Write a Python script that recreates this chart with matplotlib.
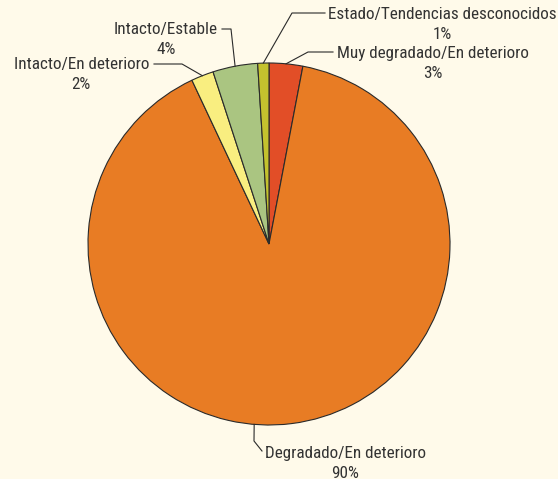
import numpy as np
import matplotlib
matplotlib.use("Agg")
import matplotlib.pyplot as plt
from matplotlib import font_manager as fm

W, H = 558, 479

categorias = [
    "Muy degradado/En deterioro",
    "Degradado/En deterioro",
    "Intacto/En deterioro",
    "Intacto/Estable",
    "Estado/Tendencias desconocidos",
]
porcentajes = [3, 90, 2, 4, 1]
colores = ["#E24E27", "#E87C24", "#F9EE80", "#AAC581", "#C4C22E"]

# label layout in pixels, origin top-left:
# (anchor angle override or None, elbow, line end, text pos, ha)
layout = [
    (None, (308, 52), (333, 52), (337, 52), "left"),
    (265.3, (254, 441), (262, 451), (265, 452), "left"),
    (None, (182, 64), (154, 64), (149, 63), "right"),
    (None, (231, 29), (222, 29), (218, 28), "right"),
    (None, (292, 13), (325, 13), (328, 13), "left"),
]

centro = (269, 244)
radio = 181
texto_col = "#333333"
fondo = "#FFFAEA"

# pick a narrow font if there is one
fuentes = fm.fontManager.ttflist
nombres = {f.name for f in fuentes}
if "Liberation Sans Narrow" in nombres:
    fam, stretch = "Liberation Sans Narrow", "normal"
elif "Roboto Condensed" in nombres:
    fam, stretch = "Roboto Condensed", "normal"
elif any(f.name == "DejaVu Sans" and "Condensed" in f.fname for f in fuentes):
    fam, stretch = "DejaVu Sans", "condensed"
else:
    fam, stretch = "Liberation Sans", "normal"


def px(x, y):
    return x, H - y


fig = plt.figure(figsize=(W / 100, H / 100), dpi=100, facecolor=fondo)
ax = fig.add_axes([0, 0, 1, 1])
ax.set_facecolor(fondo)
ax.set_xlim(0, W)
ax.set_ylim(0, H)
ax.set_aspect("equal")
ax.axis("off")

rend = fig.canvas.get_renderer()
prueba = ax.text(0, 0, categorias[-1], fontsize=10, family=fam, stretch=stretch)
ancho = prueba.get_window_extent(rend).width
prueba.remove()
fs = min(13.5, 10 * 228 / ancho)

wedges, _ = ax.pie(
    porcentajes,
    colors=colores,
    startangle=90,
    counterclock=False,
    center=px(*centro),
    radius=radio,
    frame=True,
    wedgeprops=dict(edgecolor="#2a2a2a", linewidth=0.8),
)

for w, nombre, p, (ang, elbow, end, tpos, ha) in zip(wedges, categorias, porcentajes, layout):
    if ang is None:
        ang = (w.theta1 + w.theta2) / 2
    a = np.deg2rad(ang)
    cx, cy = px(*centro)
    x0, y0 = cx + radio * np.cos(a), cy + radio * np.sin(a)
    ex, ey = px(*elbow)
    fx, fy = px(*end)
    ax.plot([x0, ex, fx], [y0, ey, fy], color="#2a2a2a", lw=0.8)
    tx, ty = px(*tpos)
    t = ax.text(tx, ty, nombre, ha=ha, va="center_baseline", fontsize=fs,
                family=fam, stretch=stretch, color=texto_col)
    bb = t.get_window_extent(rend)
    xm = ax.transData.inverted().transform(((bb.x0 + bb.x1) / 2, 0))[0]
    ax.text(xm, ty - 19.5, f"{p}%", ha="center", va="center_baseline",
            fontsize=fs, family=fam, stretch=stretch, color=texto_col)

fig.savefig("out.png", dpi=100, facecolor=fig.get_facecolor())
